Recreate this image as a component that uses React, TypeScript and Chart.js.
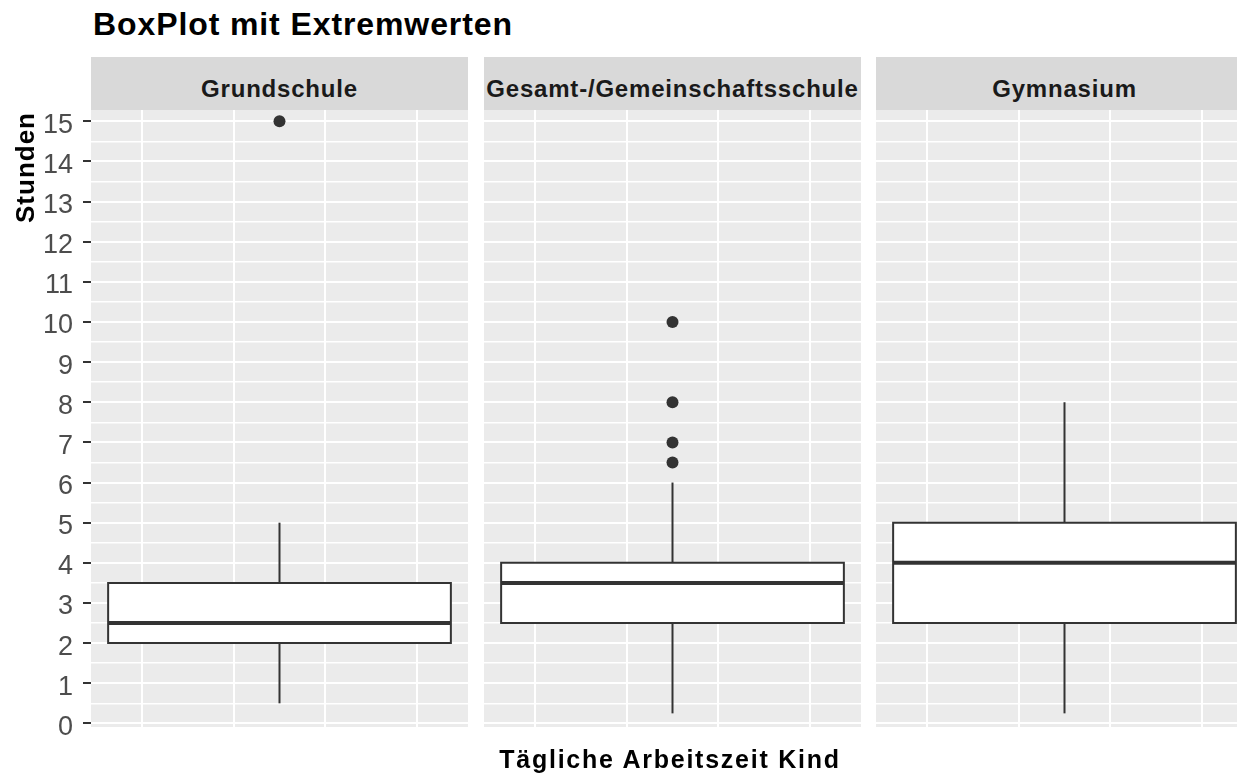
import React, { useEffect, useRef } from "react";
import { Chart, registerables } from "chart.js";

Chart.register(...registerables);

// ---- data ----
const chartTitle = "BoxPlot mit Extremwerten";
const xAxisTitle = "Tägliche Arbeitszeit Kind";
const yAxisTitle = "Stunden";
const categories = ["Grundschule", "Gesamt-/Gemeinschaftsschule", "Gymnasium"];
const whiskerLow = [0.5, 0.25, 0.25];
const q1 = [2, 2.5, 2.5];
const median = [2.5, 3.5, 4];
const q3 = [3.5, 4, 5];
const whiskerHigh = [5, 6, 8];
const outliers: number[][] = [[15], [6.5, 7, 8, 10], []];
const yTickValues = [0, 1, 2, 3, 4, 5, 6, 7, 8, 9, 10, 11, 12, 13, 14, 15];
const xGridValues = [-0.3, -0.1, 0.1, 0.3];
const boxHalfWidth = 0.375;
const xLimits = [-0.4125, 0.4125];
const yLimits = [-0.09, 15.28];

// ---- style ----
const FONT = '"Liberation Sans", Arial, sans-serif';
const DARK = "#333333";
const PANEL_BG = "#EBEBEB";
const STRIP_BG = "#D9D9D9";

const panelLefts = [0, 484, 876];
const panelWidths = [468, 377, 377];
const stripLefts = [91, 484, 876];
const CANVAS_TOP = 80;
const CANVAS_HEIGHT = 677;
const PAD = 30;

const yMinor = yTickValues.slice(1).map((v, i) => (v + yTickValues[i]) / 2);
const yAll = [...yTickValues, ...yMinor].sort((a, b) => a - b);

const bgPlugin = {
  id: "panelBg",
  beforeDraw(chart: any) {
    const { ctx, chartArea: a } = chart;
    ctx.save();
    ctx.fillStyle = PANEL_BG;
    ctx.fillRect(a.left, a.top, a.right - a.left, a.bottom - a.top);
    ctx.restore();
  },
};

function Panel({ index }: { index: number }) {
  const ref = useRef<HTMLCanvasElement>(null);
  const showAxis = index === 0;
  const width = panelWidths[index];
  useEffect(() => {
    const canvas = ref.current;
    if (!canvas) return;
    const i = index;
    const seg = (pts: { x: number; y: number }[], extra: any) => ({
      data: pts,
      borderColor: DARK,
      borderWidth: 2,
      pointRadius: 0,
      fill: false,
      tension: 0,
      borderJoinStyle: "miter",
      borderCapStyle: "butt",
      ...extra,
    });
    const datasets: any[] = [
      // box fill
      {
        data: [
          { x: -boxHalfWidth, y: q3[i] },
          { x: boxHalfWidth, y: q3[i] },
        ],
        fill: { value: q1[i] },
        backgroundColor: "#FFFFFF",
        borderColor: "rgba(0,0,0,0)",
        borderWidth: 1,
        pointRadius: 0,
        order: 6,
      },
      // lower whisker
      seg(
        [
          { x: 0, y: whiskerLow[i] },
          { x: 0, y: q1[i] },
        ],
        { order: 5 }
      ),
      // upper whisker
      seg(
        [
          { x: 0, y: q3[i] },
          { x: 0, y: whiskerHigh[i] },
        ],
        { order: 4 }
      ),
      // box outline
      seg(
        [
          { x: -boxHalfWidth, y: q1[i] },
          { x: boxHalfWidth, y: q1[i] },
          { x: boxHalfWidth, y: q3[i] },
          { x: -boxHalfWidth, y: q3[i] },
          { x: -boxHalfWidth, y: q1[i] },
        ],
        { order: 3, borderCapStyle: "square" }
      ),
      // median
      seg(
        [
          { x: -boxHalfWidth, y: median[i] },
          { x: boxHalfWidth, y: median[i] },
        ],
        { order: 2, borderWidth: 4 }
      ),
      // outliers
      {
        data: outliers[i].map((v) => ({ x: 0, y: v })),
        showLine: false,
        pointRadius: 6,
        pointBackgroundColor: DARK,
        pointBorderColor: DARK,
        pointBorderWidth: 0,
        order: 1,
      },
    ];

    const chart = new Chart(canvas, {
      type: "line",
      data: { datasets },
      options: {
        responsive: false,
        animation: false,
        events: [],
        devicePixelRatio: 1,
        layout: { autoPadding: false, padding: { top: PAD, bottom: PAD, left: 0, right: 0 } },
        plugins: {
          legend: { display: false },
          tooltip: { enabled: false },
          title: { display: false },
        },
        scales: {
          x: {
            type: "linear",
            min: xLimits[0],
            max: xLimits[1],
            afterBuildTicks: (s: any) => {
              s.ticks = xGridValues.map((v) => ({ value: v }));
            },
            afterFit: (s: any) => {
              s.height = 0;
              s.paddingLeft = 0;
              s.paddingRight = 0;
            },
            ticks: { display: false },
            grid: { color: "#FFFFFF", lineWidth: 2, drawTicks: false },
            border: { display: false },
          },
          y: {
            type: "linear",
            min: yLimits[0],
            max: yLimits[1],
            afterBuildTicks: (s: any) => {
              s.ticks = yAll.map((v) => ({ value: v }));
            },
            afterFit: (s: any) => {
              s.width = showAxis ? 91 : 0;
              s.paddingTop = 0;
              s.paddingBottom = 0;
            },
            ticks: {
              display: showAxis,
              autoSkip: false,
              padding: 10,
              color: "#4D4D4D",
              labelOffset: 4,
              font: { family: FONT, size: 27 },
              callback: (v: any) => (yTickValues.includes(v) ? String(v) : ""),
            },
            grid: {
              color: "#FFFFFF",
              lineWidth: (c: any) => (c.tick && yTickValues.includes(c.tick.value) ? 2 : 1.6),
              drawTicks: showAxis,
              tickLength: 8,
              tickWidth: 2,
              tickColor: (c: any) =>
                c.tick && yTickValues.includes(c.tick.value) ? DARK : "rgba(0,0,0,0)",
            },
            border: { display: false },
          },
        },
      } as any,
      plugins: [bgPlugin],
    });
    return () => chart.destroy();
  }, [index]);

  return (
    <canvas
      ref={ref}
      width={width}
      height={CANVAS_HEIGHT}
      style={{
        position: "absolute",
        left: panelLefts[index],
        top: CANVAS_TOP,
        width,
        height: CANVAS_HEIGHT,
      }}
    />
  );
}

export default function App() {
  return (
    <div
      style={{
        position: "absolute",
        left: 0,
        top: 0,
        width: 1237,
        height: 777,
        overflow: "hidden",
        background: "#FFFFFF",
        fontFamily: FONT,
      }}
    >
      <div
        style={{
          position: "absolute",
          left: 93,
          top: 8,
          fontSize: 32,
          lineHeight: "32px",
          fontWeight: "bold",
          letterSpacing: "0.9px",
          color: "#000000",
          whiteSpace: "nowrap",
        }}
      >
        {chartTitle}
      </div>

      {categories.map((c, i) => (
        <div
          key={c}
          style={{
            position: "absolute",
            left: stripLefts[i],
            top: 57,
            width: 377,
            height: 53,
            background: STRIP_BG,
          }}
        >
          <div
            style={{
              position: "absolute",
              left: 0,
              right: 0,
              top: 20,
              textAlign: "center",
              fontSize: 24,
              lineHeight: "24px",
              fontWeight: "bold",
              letterSpacing: "0.8px",
              color: "#1A1A1A",
              whiteSpace: "nowrap",
            }}
          >
            {c}
          </div>
        </div>
      ))}

      {categories.map((c, i) => (
        <Panel key={"p" + c} index={i} />
      ))}

      <div
        style={{
          position: "absolute",
          left: 12,
          top: 223,
          transformOrigin: "0 0",
          transform: "rotate(-90deg)",
          fontSize: 26,
          lineHeight: "26px",
          fontWeight: "bold",
          letterSpacing: "1px",
          color: "#000000",
          whiteSpace: "nowrap",
        }}
      >
        {yAxisTitle}
      </div>

      <div
        style={{
          position: "absolute",
          left: 420,
          width: 500,
          top: 747,
          textAlign: "center",
          fontSize: 25,
          lineHeight: "25px",
          fontWeight: "bold",
          letterSpacing: "1.75px",
          color: "#000000",
          whiteSpace: "nowrap",
        }}
      >
        {xAxisTitle}
      </div>
    </div>
  );
}
